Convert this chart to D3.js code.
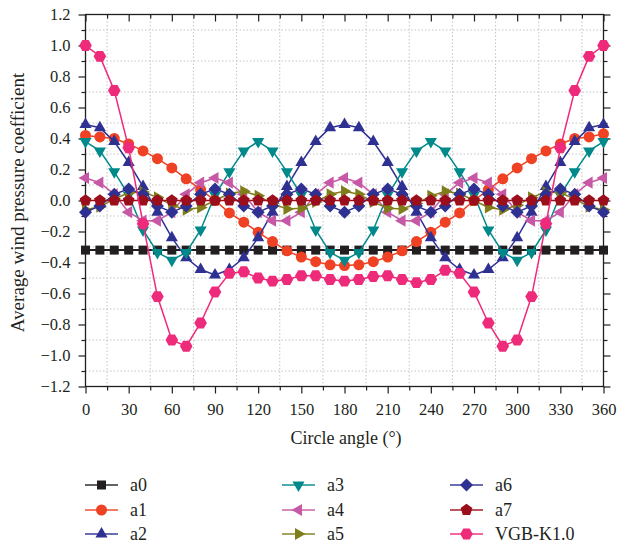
<!DOCTYPE html>
<html>
<head>
<meta charset="utf-8">
<script src="https://cdn.jsdelivr.net/npm/d3@7"></script>
<style>
  html, body { margin: 0; padding: 0; background: #fff; }
  svg { display: block; }
  text { font-family: "Liberation Serif", "Times New Roman", serif; fill: #231f20; }
</style>
</head>
<body>
<svg id="chart" width="618" height="545"></svg>
<script>
// ---------------- DATA ----------------
const angles = [0,10,20,30,40,50,60,70,80,90,100,110,120,130,140,150,160,170,180,190,200,210,220,230,240,250,260,270,280,290,300,310,320,330,340,350,360];

const a0 = [-0.32,-0.32,-0.32,-0.32,-0.32,-0.32,-0.32,-0.32,-0.32,-0.32,-0.32,-0.32,-0.32,-0.32,-0.32,-0.32,-0.32,-0.32,-0.32,-0.32,-0.32,-0.32,-0.32,-0.32,-0.32,-0.32,-0.32,-0.32,-0.32,-0.32,-0.32,-0.32,-0.32,-0.32,-0.32,-0.32,-0.32];
const a1 = [0.42,0.41,0.40,0.365,0.32,0.27,0.21,0.14,0.07,0.00,-0.08,-0.14,-0.205,-0.265,-0.325,-0.365,-0.395,-0.415,-0.42,-0.415,-0.395,-0.365,-0.325,-0.265,-0.205,-0.14,-0.08,0.00,0.07,0.14,0.21,0.27,0.32,0.365,0.40,0.41,0.43];
const a2 = [0.49,0.47,0.38,0.245,0.09,-0.075,-0.24,-0.37,-0.445,-0.48,-0.445,-0.37,-0.24,-0.075,0.09,0.245,0.38,0.47,0.49,0.47,0.38,0.245,0.09,-0.075,-0.24,-0.37,-0.445,-0.48,-0.445,-0.37,-0.24,-0.075,0.09,0.245,0.38,0.47,0.49];
const a3 = [0.38,0.32,0.185,0.035,-0.19,-0.335,-0.385,-0.335,-0.19,0.035,0.185,0.32,0.38,0.32,0.185,0.035,-0.19,-0.335,-0.385,-0.335,-0.19,0.035,0.185,0.32,0.38,0.32,0.185,0.035,-0.19,-0.335,-0.385,-0.335,-0.19,0.035,0.185,0.32,0.38];
const a4 = [0.145,0.115,0.04,-0.075,-0.13,-0.13,-0.075,0.04,0.115,0.145,0.115,0.04,-0.075,-0.13,-0.13,-0.075,0.04,0.115,0.145,0.115,0.04,-0.075,-0.13,-0.13,-0.075,0.04,0.115,0.145,0.115,0.04,-0.075,-0.13,-0.13,-0.075,0.04,0.115,0.145];
const a5 = [-0.06,-0.04,0.01,0.05,0.055,0.02,-0.03,-0.06,-0.045,0.0,0.045,0.06,0.03,-0.02,-0.055,-0.05,-0.01,0.04,0.06,0.04,-0.01,-0.05,-0.055,-0.02,0.03,0.06,0.045,0.0,-0.045,-0.06,-0.03,0.02,0.055,0.05,0.01,-0.04,-0.06];
const a6 = [-0.075,-0.035,0.04,0.075,0.04,-0.035,-0.075,-0.035,0.04,0.075,0.04,-0.035,-0.075,-0.035,0.04,0.075,0.04,-0.035,-0.075,-0.035,0.04,0.075,0.04,-0.035,-0.075,-0.035,0.04,0.075,0.04,-0.035,-0.075,-0.035,0.04,0.075,0.04,-0.035,-0.075];
const a7 = [0,0,0,0,0,0,0,0,0,0,0,0,0,0,0,0,0,0,0,0,0,0,0,0,0,0,0,0,0,0,0,0,0,0,0,0,0];
const vgb = [1.0,0.93,0.71,0.34,-0.15,-0.62,-0.90,-0.94,-0.79,-0.59,-0.47,-0.46,-0.50,-0.52,-0.51,-0.485,-0.485,-0.51,-0.52,-0.51,-0.49,-0.485,-0.51,-0.53,-0.51,-0.45,-0.47,-0.59,-0.79,-0.94,-0.90,-0.62,-0.15,0.34,0.71,0.93,1.0];

const seriesNames = ["a0","a1","a2","a3","a4","a5","a6","a7","VGB-K1.0"];
const seriesValues = [a0,a1,a2,a3,a4,a5,a6,a7,vgb];
const seriesColors = ["#231f20","#ef4123","#2e3192","#00898a","#c658a5","#7f7d1a","#2e3192","#9b0e1b","#ee2a7b"];
const seriesShapes = ["square","circle","triUp","triDown","triLeft","triRight","diamond","pentagon","hexagon"];

const xTicksMajor = [0,30,60,90,120,150,180,210,240,270,300,330,360];
const xTicksMinor = [15,45,75,105,135,165,195,225,255,285,315,345];
const yTicksMajor = [-1.2,-1.0,-0.8,-0.6,-0.4,-0.2,0.0,0.2,0.4,0.6,0.8,1.0,1.2];
const yTicksMinor = [-1.1,-0.9,-0.7,-0.5,-0.3,-0.1,0.1,0.3,0.5,0.7,0.9,1.1];

// ---------------- LAYOUT ----------------
const L = 85.5, R = 603.5, T = 14.5, B = 386.5;
const svg = d3.select("#chart");
const x = d3.scaleLinear().domain([0,360]).range([L,R]);
const y = d3.scaleLinear().domain([-1.2,1.2]).range([B,T]);
const ink = "#231f20";

// grid (dotted, at minor ticks)
const grid = svg.append("g");
grid.selectAll("line.vx").data(xTicksMinor).join("line")
  .attr("x1", d => x(d)).attr("x2", d => x(d)).attr("y1", T).attr("y2", B)
  .attr("stroke", "#c4c4c4").attr("stroke-width", 1).attr("stroke-dasharray", "1.5,2");
grid.selectAll("line.hy").data(yTicksMinor).join("line")
  .attr("y1", d => y(d)).attr("y2", d => y(d)).attr("x1", L).attr("x2", R)
  .attr("stroke", "#c4c4c4").attr("stroke-width", 1).attr("stroke-dasharray", "1.5,2");

// axes
const fmt = d3.format(".1f");
function styleAxis(g) {
  g.select(".domain").remove();
  g.selectAll(".tick line").attr("stroke", ink).attr("stroke-width", 1.2);
  g.selectAll(".tick text").attr("font-size", "16.5px").attr("fill", ink)
    .attr("font-family", '"Liberation Serif", "Times New Roman", serif');
}
// left
svg.append("g").attr("transform", `translate(${L},0)`)
  .call(d3.axisLeft(y).tickValues(yTicksMajor).tickFormat(fmt).tickSize(7).tickPadding(8)).call(styleAxis);
svg.append("g").attr("transform", `translate(${L},0)`)
  .call(d3.axisLeft(y).tickValues(yTicksMinor).tickFormat("").tickSize(4)).call(styleAxis);
// right
svg.append("g").attr("transform", `translate(${R},0)`)
  .call(d3.axisRight(y).tickValues(yTicksMajor).tickFormat("").tickSize(7)).call(styleAxis);
svg.append("g").attr("transform", `translate(${R},0)`)
  .call(d3.axisRight(y).tickValues(yTicksMinor).tickFormat("").tickSize(4)).call(styleAxis);
// bottom
svg.append("g").attr("transform", `translate(0,${B})`)
  .call(d3.axisBottom(x).tickValues(xTicksMajor).tickFormat(d3.format("d")).tickSize(7).tickPadding(10)).call(styleAxis);
svg.append("g").attr("transform", `translate(0,${B})`)
  .call(d3.axisBottom(x).tickValues(xTicksMinor).tickFormat("").tickSize(4)).call(styleAxis);
// top (ticks inward)
svg.append("g").attr("transform", `translate(0,${T})`)
  .call(d3.axisTop(x).tickValues(xTicksMajor).tickFormat("").tickSize(-7)).call(styleAxis);
svg.append("g").attr("transform", `translate(0,${T})`)
  .call(d3.axisTop(x).tickValues(xTicksMinor).tickFormat("").tickSize(-4)).call(styleAxis);

// frame
svg.append("rect").attr("x", L).attr("y", T).attr("width", R - L).attr("height", B - T)
  .attr("fill", "none").attr("stroke", ink).attr("stroke-width", 1.3);

// axis titles
svg.append("text").attr("x", 346).attr("y", 444).attr("text-anchor", "middle")
  .attr("font-size", "18px").text("Circle angle (°)");
svg.append("text").attr("transform", `translate(24,${(T + B) / 2 + 2}) rotate(-90)`)
  .attr("text-anchor", "middle").attr("font-size", "19px").text("Average wind pressure coefficient");

// markers
function polygon(n, r, startDeg) {
  const pts = [];
  for (let i = 0; i < n; i++) {
    const a = (startDeg + i * 360 / n) * Math.PI / 180;
    pts.push([r * Math.cos(a), r * Math.sin(a)]);
  }
  return "M" + pts.map(p => p[0].toFixed(2) + "," + p[1].toFixed(2)).join("L") + "Z";
}
function shapePath(s) {
  switch (s) {
    case "square": return "M-4.5,-4.5L4.5,-4.5L4.5,4.5L-4.5,4.5Z";
    case "circle": return d3.symbol(d3.symbolCircle, 95)();
    case "triUp": return polygon(3, 7, -90);
    case "triDown": return polygon(3, 7, 90);
    case "triLeft": return polygon(3, 7, 180);
    case "triRight": return polygon(3, 7, 0);
    case "diamond": return polygon(4, 6.5, -90);
    case "pentagon": return polygon(5, 6.2, -90);
    case "hexagon": return polygon(6, 6.3, 0);
  }
}

const line = d3.line().x((d, i) => x(angles[i])).y(d => y(d));
const plot = svg.append("g");
seriesValues.forEach((vals, k) => {
  const g = plot.append("g");
  g.append("path").attr("d", line(vals)).attr("fill", "none")
    .attr("stroke", seriesColors[k]).attr("stroke-width", k === 0 ? 2 : 1.5);
  g.selectAll("path.m").data(vals).join("path").attr("class", "m")
    .attr("transform", (d, i) => `translate(${x(angles[i])},${y(d)})`)
    .attr("d", shapePath(seriesShapes[k])).attr("fill", seriesColors[k]);
});

// legend
const colX = [85, 282, 450];
const rowY = [485, 510, 534];
const legend = svg.append("g");
seriesNames.forEach((name, k) => {
  const cx = colX[Math.floor(k / 3)], cy = rowY[k % 3];
  legend.append("line").attr("x1", cx).attr("x2", cx + 33).attr("y1", cy).attr("y2", cy)
    .attr("stroke", seriesColors[k]).attr("stroke-opacity", 0.7).attr("stroke-width", 1.8);
  legend.append("path").attr("transform", `translate(${cx + 16.5},${cy})`)
    .attr("d", shapePath(seriesShapes[k])).attr("fill", seriesColors[k]);
  legend.append("text").attr("x", cx + 45).attr("y", cy).attr("dy", "0.35em")
    .attr("font-size", "18px").text(name);
});
</script>
</body>
</html>
